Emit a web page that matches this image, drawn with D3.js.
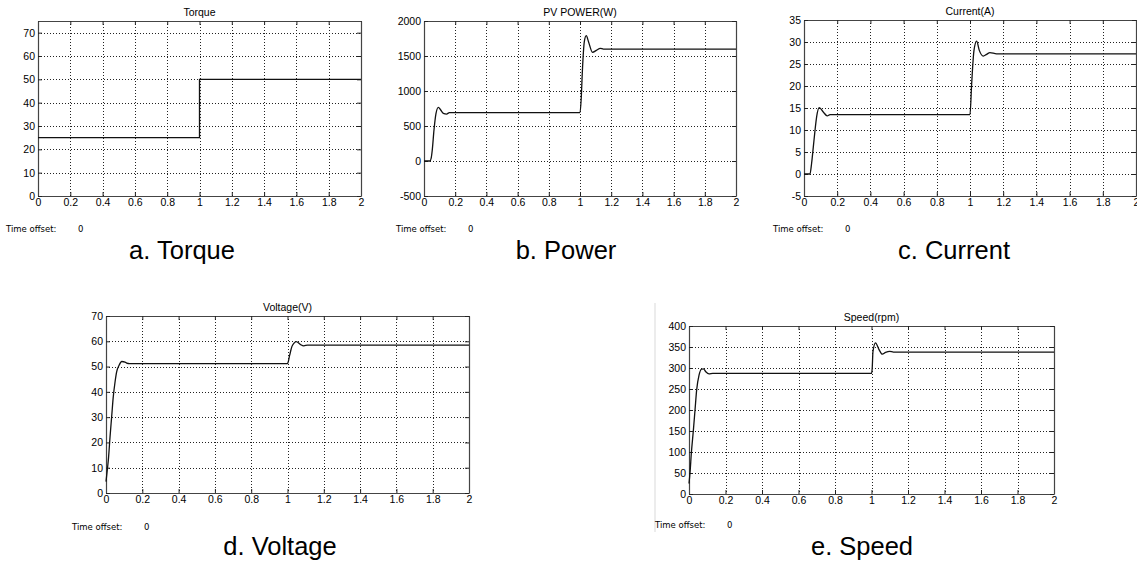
<!DOCTYPE html>
<html><head><meta charset="utf-8">
<script src="https://cdn.jsdelivr.net/npm/d3@7"></script>
<style>
body{margin:0;background:#fff;}
.tick text{font-family:"Liberation Sans Narrow","Arial Narrow","Liberation Sans",Arial,sans-serif;font-size:10.5px;fill:#000;}
.ttl{font-family:"Liberation Sans Narrow","Liberation Sans",Arial,sans-serif;font-size:10.5px;fill:#000;}
.off{font-family:"DejaVu Sans",Verdana,sans-serif;font-size:8.5px;fill:#000;}
.cap{font-family:"Liberation Sans",Arial,sans-serif;font-size:25.5px;fill:#000;}
</style>
</head><body>
<script>
// ---- data ----
const timeTicks = [0,0.2,0.4,0.6,0.8,1,1.2,1.4,1.6,1.8,2];
const titles = ["Torque","PV POWER(W)","Current(A)","Voltage(V)","Speed(rpm)"];
const captions = ["a. Torque","b. Power","c. Current","d. Voltage","e. Speed"];

const torqueYTicks = [0,10,20,30,40,50,60,70];
const torqueT = [0,1,1,2];
const torqueV = [25,25,50,50];

const powerYTicks = [-500,0,500,1000,1500,2000];
const powerT = [0,0.038,0.046,0.053,0.064,0.077,0.092,0.107,0.124,0.145,0.162,1.0,1.008,1.015,1.028,1.04,1.055,1.08,1.105,1.13,1.15,2];
const powerV = [0,0,40,157,443,681,767,729,681,671,690,690,900,1275,1710,1790,1700,1553,1580,1610,1598,1598];

const currentYTicks = [-5,0,5,10,15,20,25,30,35];
const currentT = [0,0.036,0.046,0.056,0.066,0.076,0.092,0.116,0.14,0.157,1.0,1.01,1.024,1.04,1.056,1.08,1.1,1.12,1.16,2];
const currentV = [0,0,2.5,6.1,9.8,13,15.1,14.1,13.2,13.5,13.5,20.5,28.1,30.2,28.1,26.8,27.2,27.6,27.3,27.3];

const voltageYTicks = [0,10,20,30,40,50,60,70];
const voltageT = [0,0.007,0.014,0.022,0.031,0.04,0.05,0.059,0.072,0.087,0.105,0.114,0.13,1.0,1.012,1.024,1.036,1.048,1.07,1.09,1.11,2];
const voltageV = [4.5,9,14,22,30,38,44,48,50.5,52,51.8,51.4,51.2,51.2,54.5,57.9,59.3,59.9,58.8,58.2,58.5,58.5];

const speedYTicks = [0,50,100,150,200,250,300,350,400];
const speedT = [0,0.006,0.0128,0.024,0.033,0.042,0.055,0.068,0.079,0.092,0.11,0.13,1.0,1.004,1.008,1.022,1.04,1.059,1.077,1.1,1.12,2];
const speedV = [25,53,97,152,200,248,283,297,298,291,286,287,287,300,339,360,345,333,337,339.5,338,338];

// ---- layout ----
const W = 1137, H = 562;
const svg = d3.select("body").append("svg").attr("width",W).attr("height",H);

// faint screenshot edge of panel e
svg.append("line").attr("x1",655).attr("x2",655).attr("y1",303).attr("y2",532)
  .attr("stroke","#e6e6e6").attr("stroke-width",1.5);

const panels = [
  {t:torqueT, v:torqueV, yt:torqueYTicks, yd:[0,75], L:38, R:361, T:21, B:196, curve:d3.curveLinear, offX:6, offY:232, capX:182, capY:259},
  {t:powerT, v:powerV, yt:powerYTicks, yd:[-500,2000], L:424, R:736, T:21, B:196, curve:d3.curveMonotoneX, offX:396, offY:232, capX:566, capY:259},
  {t:currentT, v:currentV, yt:currentYTicks, yd:[-5,35], L:804, R:1136, T:20, B:196, curve:d3.curveMonotoneX, offX:773, offY:232, capX:954, capY:259},
  {t:voltageT, v:voltageV, yt:voltageYTicks, yd:[0,70], L:106, R:469, T:316, B:493, curve:d3.curveMonotoneX, offX:72, offY:530, capX:280, capY:555},
  {t:speedT, v:speedV, yt:speedYTicks, yd:[0,400], L:689, R:1054, T:326, B:494, curve:d3.curveMonotoneX, offX:655, offY:528, capX:862, capY:555}
];

const plain = d => String(d);

panels.forEach((p,i)=>{
  const x = d3.scaleLinear().domain([0,2]).range([p.L,p.R]);
  const y = d3.scaleLinear().domain(p.yd).range([p.B,p.T]);
  const g = svg.append("g");

  // grid
  g.selectAll(".vg").data(timeTicks.filter(d=>d>0&&d<2)).join("line")
    .attr("x1",d=>Math.round(x(d))+0.5).attr("x2",d=>Math.round(x(d))+0.5)
    .attr("y1",p.T).attr("y2",p.B)
    .attr("stroke","#222").attr("stroke-width",1).attr("stroke-dasharray","1,2");
  g.selectAll(".hg").data(p.yt.filter(d=>y(d)<p.B-1 && y(d)>p.T+1)).join("line")
    .attr("y1",d=>Math.round(y(d))+0.5).attr("y2",d=>Math.round(y(d))+0.5)
    .attr("x1",p.L).attr("x2",p.R)
    .attr("stroke","#222").attr("stroke-width",1).attr("stroke-dasharray","1,2");

  // axes
  const ax = (a, tr)=> g.append("g").attr("transform",tr).call(a)
    .call(s=>{s.select(".domain").attr("stroke","#444").attr("stroke-width",1.2);
              s.selectAll(".tick line").attr("stroke","#222");});
  ax(d3.axisBottom(x).tickValues(timeTicks).tickFormat(plain).tickSize(-4).tickSizeOuter(0).tickPadding(3),
     `translate(0,${p.B})`);
  ax(d3.axisTop(x).tickValues(timeTicks).tickFormat("").tickSize(-4).tickSizeOuter(0), `translate(0,${p.T})`);
  ax(d3.axisLeft(y).tickValues(p.yt).tickFormat(plain).tickSize(-4).tickSizeOuter(0).tickPadding(3), `translate(${p.L},0)`);
  ax(d3.axisRight(y).tickValues(p.yt).tickFormat("").tickSize(-4).tickSizeOuter(0), `translate(${p.R},0)`);
  g.selectAll(".tick text").attr("font-family",null).attr("font-size",null);

  // signal
  const line = d3.line().x((d,k)=>x(p.t[k])).y((d,k)=>y(p.v[k])).curve(p.curve);
  g.append("path").datum(p.v).attr("d",line)
    .attr("fill","none").attr("stroke","#111").attr("stroke-width",1.3);

  // title
  g.append("text").attr("class","ttl").attr("x",(p.L+p.R)/2).attr("y",p.T-5)
    .attr("text-anchor","middle").text(titles[i]);
  // time offset
  g.append("text").attr("class","off").attr("x",p.offX).attr("y",p.offY).text("Time offset:");
  g.append("text").attr("class","off").attr("x",p.offX+72).attr("y",p.offY).text("0");
  // caption
  g.append("text").attr("class","cap").attr("x",p.capX).attr("y",p.capY)
    .attr("text-anchor","middle").text(captions[i]);
});
</script>
</body></html>
